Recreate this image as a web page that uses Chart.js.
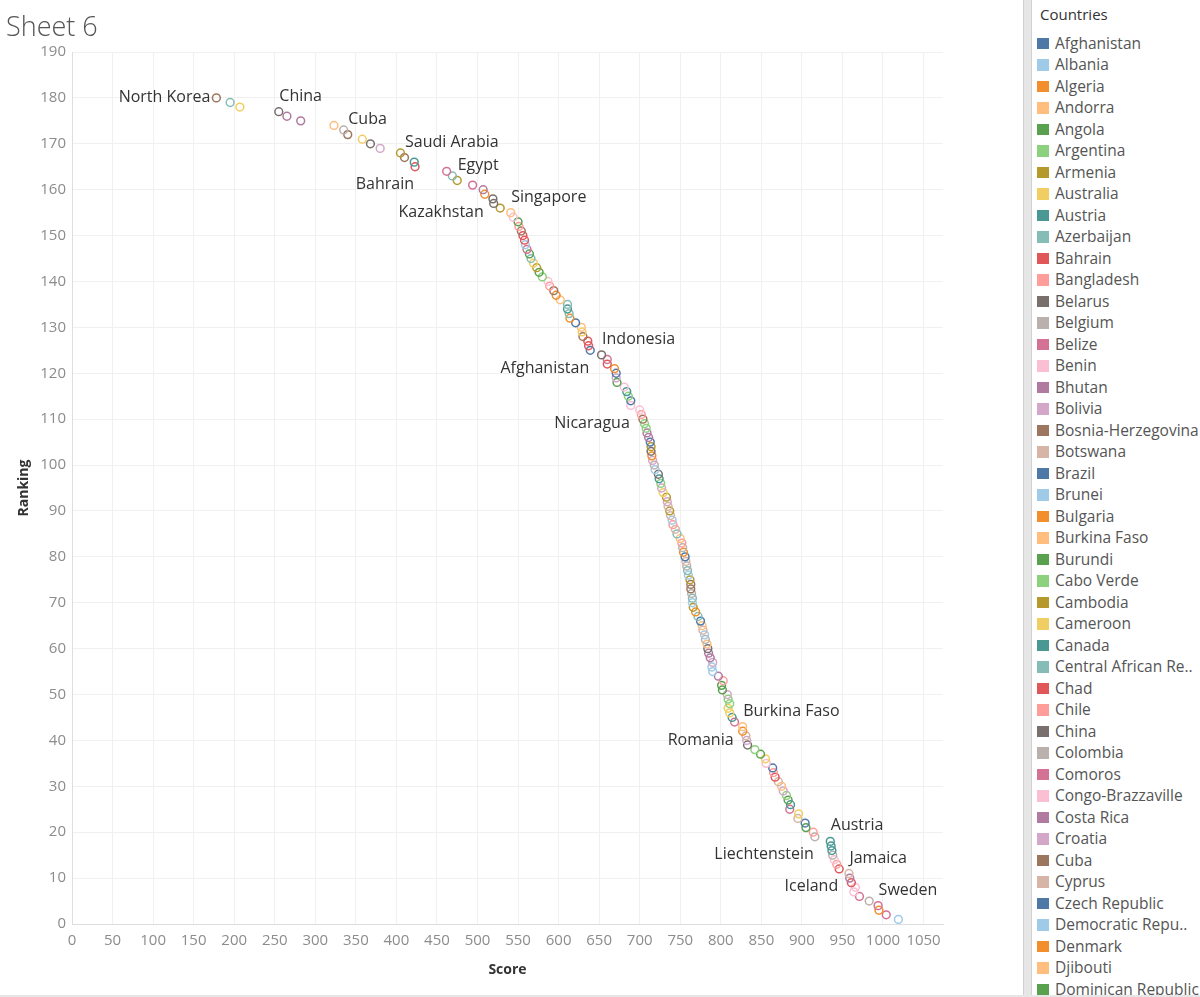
<!DOCTYPE html>
<html>
<head>
<meta charset="utf-8">
<title>Sheet 6</title>
<script src="https://cdn.jsdelivr.net/npm/chart.js@4.4.1/dist/chart.umd.min.js"></script>
<style>
  html, body { margin: 0; padding: 0; }
  body { width: 1200px; height: 997px; position: relative; overflow: hidden; background: #e6e6e6; font-family: "Open Sans", sans-serif; }
  #pane { position: absolute; left: 0; top: 0; width: 1023px; height: 995px; background: #fff; border-right: 1px solid #d2d2d2; }
  #title { position: absolute; left: 6px; top: 7px; font-size: 27px; color: #555; font-weight: 300; white-space: nowrap; }
  #chartBox { position: absolute; left: 0; top: 0; width: 1023px; height: 995px; }
  #side { position: absolute; left: 1031px; top: 0; width: 169px; height: 995px; background: #fff; border-left: 1px solid #d2d2d2; overflow: hidden; }
  #side h4 { margin: 0; position: absolute; left: 8px; top: 4px; font-size: 15px; font-weight: normal; color: #333; }
  #items { position: absolute; left: 0; top: 32.5px; }
  .item { height: 21.5px; line-height: 21.5px; font-size: 15.5px; color: #555; white-space: nowrap; position: relative; padding-left: 23px; }
  .item i { position: absolute; left: 5px; top: 5px; width: 11.5px; height: 11.5px; }
</style>
</head>
<body>
<div id="pane">
  <div id="chartBox"><canvas id="chart"></canvas></div>
  <div id="title">Sheet 6</div>
</div>
<div id="side">
  <h4>Countries</h4>
  <div id="items"></div>
</div>
<script>
// countries in alphabetical order (colour order of the legend)
var countries = [
  'Afghanistan', 'Albania', 'Algeria', 'Andorra', 'Angola', 'Argentina', 'Armenia', 'Australia', 'Austria', 'Azerbaijan',
  'Bahrain', 'Bangladesh', 'Belarus', 'Belgium', 'Belize', 'Benin', 'Bhutan', 'Bolivia', 'Bosnia-Herzegovina', 'Botswana',
  'Brazil', 'Brunei', 'Bulgaria', 'Burkina Faso', 'Burundi', 'Cabo Verde', 'Cambodia', 'Cameroon', 'Canada', 'Central African Republic',
  'Chad', 'Chile', 'China', 'Colombia', 'Comoros', 'Congo-Brazzaville', 'Costa Rica', 'Croatia', 'Cuba', 'Cyprus',
  'Czech Republic', 'Democratic Republic of Congo', 'Denmark', 'Djibouti', 'Dominican Republic', 'Ecuador', 'Egypt', 'El Salvador', 'Equatorial Guinea', 'Eritrea',
  'Estonia', 'Eswatini', 'Ethiopia', 'Fiji', 'Finland', 'France', 'Gabon', 'Gambia', 'Georgia', 'Germany',
  'Ghana', 'Greece', 'Guatemala', 'Guinea', 'Guinea-Bissau', 'Guyana', 'Haiti', 'Honduras', 'Hong Kong', 'Hungary',
  'Iceland', 'India', 'Indonesia', 'Iran', 'Iraq', 'Ireland', 'Israel', 'Italy', 'Ivory Coast', 'Jamaica',
  'Japan', 'Jordan', 'Kazakhstan', 'Kenya', 'Kosovo', 'Kuwait', 'Kyrgyzstan', 'Laos', 'Latvia', 'Lebanon',
  'Lesotho', 'Liberia', 'Libya', 'Liechtenstein', 'Lithuania', 'Luxembourg', 'Madagascar', 'Malawi', 'Malaysia', 'Maldives',
  'Mali', 'Malta', 'Mauritania', 'Mauritius', 'Mexico', 'Moldova', 'Mongolia', 'Montenegro', 'Morocco', 'Mozambique',
  'Myanmar', 'Namibia', 'Nepal', 'Netherlands', 'New Zealand', 'Nicaragua', 'Niger', 'Nigeria', 'North Korea', 'North Macedonia',
  'Northern Cyprus', 'Norway', 'OECS', 'Oman', 'Pakistan', 'Palestine', 'Panama', 'Papua New Guinea', 'Paraguay', 'Peru',
  'Philippines', 'Poland', 'Portugal', 'Qatar', 'Romania', 'Russia', 'Rwanda', 'Samoa', 'Saudi Arabia', 'Senegal',
  'Serbia', 'Seychelles', 'Sierra Leone', 'Singapore', 'Slovakia', 'Slovenia', 'Somalia', 'South Africa', 'South Korea', 'South Sudan',
  'Spain', 'Sri Lanka', 'Sudan', 'Suriname', 'Sweden', 'Switzerland', 'Syria', 'Taiwan', 'Tajikistan', 'Tanzania',
  'Thailand', 'Timor-Leste', 'Togo', 'Tonga', 'Trinidad and Tobago', 'Tunisia', 'Turkey', 'Turkmenistan', 'Uganda', 'Ukraine',
  'United Arab Emirates', 'United Kingdom', 'United States', 'Uruguay', 'Uzbekistan', 'Venezuela', 'Vietnam', 'Yemen', 'Zambia', 'Zimbabwe'
];

// one entry per mark: country, its ranking and its score
var markCountries = [
  'Norway', 'Finland', 'Denmark', 'Sweden', 'Netherlands', 'New Zealand', 'Switzerland', 'Ireland', 'Estonia', 'Costa Rica',
  'Jamaica', 'Iceland', 'Namibia', 'Luxembourg', 'Belgium', 'Canada', 'Latvia', 'Austria', 'Liechtenstein', 'United Kingdom',
  'Slovakia', 'Czech Republic', 'Germany', 'Australia', 'Lithuania', 'South Korea', 'Trinidad and Tobago', 'Slovenia', 'Italy', 'Andorra',
  'Cyprus', 'Spain', 'Poland', 'Ghana', 'France', 'South Africa', 'Dominican Republic', 'Cabo Verde', 'United States', 'Taiwan',
  'Botswana', 'OECS', 'Burkina Faso', 'Romania', 'Paraguay', 'Papua New Guinea', 'Montenegro', 'Moldova', 'Argentina', 'Croatia',
  'Guinea-Bissau', 'Kosovo', 'Chile', 'Bhutan', 'Malta', 'Greece', 'Malawi', 'Israel', 'Madagascar', 'Portugal',
  'Mauritius', 'Uruguay', 'Democratic Republic of Congo', 'North Macedonia', 'Tonga', 'Japan', 'Central African Republic', 'Bulgaria', 'Panama', 'Timor-Leste',
  'Hungary', 'Suriname', 'Georgia', 'Bosnia-Herzegovina', 'Armenia', 'Seychelles', 'Mozambique', 'Qatar', 'Senegal', 'Northern Cyprus',
  'Sierra Leone', 'Fiji', 'Sri Lanka', 'Guinea', 'Peru', 'Maldives', 'Eswatini', 'Albania', 'Zimbabwe', 'Mongolia',
  'Tanzania', 'Samoa', 'Haiti', 'El Salvador', 'Gambia', 'Guyana', 'Hong Kong', 'Nepal', 'Jordan', 'Colombia',
  'Bolivia', 'Togo', 'Ethiopia', 'Kyrgyzstan', 'Serbia', 'Niger', 'Gabon', 'Tunisia', 'Ecuador', 'Ivory Coast',
  'Liberia', 'Benin', 'Nicaragua', 'Brazil', 'Kuwait', 'Uganda', 'Congo-Brazzaville', 'Angola', 'Nigeria', 'Mali',
  'Guatemala', 'Lesotho', 'Belize', 'Indonesia', 'Afghanistan', 'Chad', 'Philippines', 'Malaysia', 'Cameroon', 'Kenya',
  'Thailand', 'Mauritania', 'Ukraine', 'Morocco', 'Lebanon', 'Oman', 'Algeria', 'Zambia', 'India', 'Venezuela',
  'Palestine', 'Burundi', 'Cambodia', 'Honduras', 'South Sudan', 'Mexico', 'Comoros', 'Brunei', 'United Arab Emirates', 'Myanmar',
  'Tajikistan', 'Bangladesh', 'Pakistan', 'Russia', 'Singapore', 'Turkey', 'Libya', 'Belarus', 'Kazakhstan', 'Rwanda',
  'Uzbekistan', 'Egypt', 'Azerbaijan', 'Iraq', 'Bahrain', 'Equatorial Guinea', 'Saudi Arabia', 'Somalia', 'Yemen', 'Sudan',
  'Laos', 'Cuba', 'Iran', 'Djibouti', 'Syria', 'Vietnam', 'China', 'Turkmenistan', 'Eritrea', 'North Korea'
];

var rankings = [
  1, 2, 3, 4, 5, 6, 7, 8, 9, 10, 11, 12, 13, 14, 15, 16, 17, 18, 19, 20,
  21, 22, 23, 24, 25, 26, 27, 28, 29, 30, 31, 32, 33, 34, 35, 36, 37, 38, 39, 40,
  41, 42, 43, 44, 45, 46, 47, 48, 49, 50, 51, 52, 53, 54, 55, 56, 57, 58, 59, 60,
  61, 62, 63, 64, 65, 66, 67, 68, 69, 70, 71, 72, 73, 74, 75, 76, 77, 78, 79, 80,
  81, 82, 83, 84, 85, 86, 87, 88, 89, 90, 91, 92, 93, 94, 95, 96, 97, 98, 99, 100,
  101, 102, 103, 104, 105, 106, 107, 108, 109, 110, 111, 112, 113, 114, 115, 116, 117, 118, 119, 120,
  121, 122, 123, 124, 125, 126, 127, 128, 129, 130, 131, 132, 133, 134, 135, 136, 137, 138, 139, 140,
  141, 142, 143, 144, 145, 146, 147, 148, 149, 150, 151, 152, 153, 154, 155, 156, 157, 158, 159, 160,
  161, 162, 163, 164, 165, 166, 167, 168, 169, 170, 171, 172, 173, 174, 175, 176, 177, 178, 179, 180
];

var scores = [
  1019, 1004, 995, 994, 983, 971, 964, 966, 961, 959, 958, 946, 943, 940, 938, 937, 936, 935, 916, 914,
  905, 904, 895, 896, 885, 886, 883, 881, 877, 875, 871, 867, 865, 864, 856, 855, 849, 842, 833, 832,
  831, 827, 827, 817, 814, 811, 809, 811, 809, 808, 802, 801, 803, 797, 790, 789, 790, 787, 785, 784,
  783, 781, 780, 778, 777, 775, 772, 769, 766, 765, 765, 764, 763, 763, 762, 760, 759, 758, 757, 756,
  754, 753, 752, 750, 746, 744, 741, 740, 738, 737, 735, 734, 733, 729, 727, 726, 724, 723, 719, 718,
  716, 715, 714, 714, 713, 711, 709, 708, 706, 704, 702, 700, 689, 689, 686, 684, 681, 672, 671, 671,
  669, 660, 660, 653, 639, 637, 636, 630, 629, 628, 621, 614, 613, 611, 611, 602, 597, 594, 589, 587,
  580, 576, 573, 569, 566, 564, 561, 559, 558, 556, 554, 551, 550, 544, 541, 528, 520, 519, 509, 507,
  494, 475, 469, 462, 423, 422, 410, 405, 380, 368, 358, 340, 335, 323, 282, 265, 255, 207, 195, 178
];

var xTicks = [0, 50, 100, 150, 200, 250, 300, 350, 400, 450, 500, 550, 600, 650, 700, 750, 800, 850, 900, 950, 1000, 1050];
var yTicks = [0, 10, 20, 30, 40, 50, 60, 70, 80, 90, 100, 110, 120, 130, 140, 150, 160, 170, 180, 190];

// Tableau 20
var palette = [
  '#4E79A7', '#A0CBE8', '#F28E2B', '#FFBE7D', '#59A14F', '#8CD17D', '#B6992D', '#F1CE63', '#499894', '#86BCB6',
  '#E15759', '#FF9D9A', '#79706E', '#BAB0AC', '#D37295', '#FABFD2', '#B07AA1', '#D4A6C8', '#9D7660', '#D7B5A6'
];

// which marks carry a label and on which side
var labelSide = {
  'North Korea': 'left', 'China': 'up', 'Cuba': 'up', 'Saudi Arabia': 'up', 'Egypt': 'up', 'Singapore': 'up',
  'Indonesia': 'up', 'Burkina Faso': 'up', 'Austria': 'up', 'Jamaica': 'up', 'Sweden': 'up',
  'Bahrain': 'down', 'Kazakhstan': 'down', 'Afghanistan': 'down', 'Nicaragua': 'down', 'Romania': 'down',
  'Liechtenstein': 'down', 'Iceland': 'down'
};

function colorOf(name) {
  var i = countries.indexOf(name);
  return i < 0 ? '#000' : palette[i % palette.length];
}

// legend, long names cut the way Tableau does it
var measure = document.createElement('canvas').getContext('2d');
measure.font = '15.5px "Open Sans"';
function fit(text) {
  if (measure.measureText(text).width <= 146) return text;
  var t = text;
  while (t.length > 1 && measure.measureText(t + '..').width > 141) t = t.slice(0, -1);
  return t + '..';
}
var items = document.getElementById('items');
countries.slice(0, 48).forEach(function (name) {
  var d = document.createElement('div');
  d.className = 'item';
  d.innerHTML = '<i style="background:' + colorOf(name) + '"></i>' + fit(name);
  items.appendChild(d);
});

var points = markCountries.map(function (name, i) {
  return { x: scores[i], y: rankings[i], country: name };
});

var markLabels = {
  id: 'markLabels',
  afterDatasetsDraw: function (chart) {
    var c = chart.ctx;
    var meta = chart.getDatasetMeta(0);
    c.save();
    c.font = '16px "Open Sans"';
    c.fillStyle = '#333';
    c.textBaseline = 'middle';
    markCountries.forEach(function (name, i) {
      var side = labelSide[name];
      if (!side) return;
      var p = meta.data[i];
      if (side === 'up') {
        c.textAlign = 'left';
        c.fillText(name, p.x + 0.5, p.y - 15.5);
      } else if (side === 'down') {
        c.textAlign = 'right';
        c.fillText(name, p.x - 1, p.y + 18);
      } else {
        c.textAlign = 'right';
        c.fillText(name, p.x - 6, p.y);
      }
    });
    c.restore();
  }
};

var tickFont = { family: '"Open Sans", sans-serif', size: 15 };
var titleFont = { family: '"Open Sans", sans-serif', size: 14, weight: 'bold' };
var plain = function (v) { return String(v); };

new Chart(document.getElementById('chart').getContext('2d'), {
  type: 'scatter',
  data: {
    datasets: [{
      data: points,
      pointRadius: 3.9,
      pointHoverRadius: 3.9,
      pointBorderWidth: 1.5,
      pointBackgroundColor: 'rgba(255,255,255,0)',
      pointBorderColor: points.map(function (p) { return colorOf(p.country); })
    }]
  },
  options: {
    animation: false,
    responsive: true,
    maintainAspectRatio: false,
    layout: { padding: { top: 52, right: 80, left: 0, bottom: 0 } },
    plugins: { legend: { display: false }, tooltip: { enabled: false } },
    scales: {
      x: {
        type: 'linear', min: 0, max: 1074,
        afterBuildTicks: function (s) { s.ticks = xTicks.map(function (v) { return { value: v }; }); },
        afterFit: function (s) { s.height = 71; },
        ticks: { color: '#8c8c8c', font: tickFont, padding: 8, maxRotation: 0, autoSkip: false, callback: plain },
        grid: { color: '#f0f0f0', drawTicks: false },
        border: { color: '#dedede' },
        title: { display: true, text: 'Score', color: '#333', font: titleFont, padding: { top: 0, bottom: 17 } }
      },
      y: {
        type: 'linear', min: 0, max: 190,
        afterBuildTicks: function (s) { s.ticks = yTicks.map(function (v) { return { value: v }; }); },
        afterFit: function (s) { s.width = 72; },
        ticks: { color: '#8c8c8c', font: tickFont, padding: 6, autoSkip: false, callback: plain },
        grid: { color: '#f0f0f0', drawTicks: false },
        border: { color: '#dedede' },
        title: { display: true, text: 'Ranking', color: '#333', font: titleFont, padding: { top: 16, bottom: 0 } }
      }
    }
  },
  plugins: [markLabels]
});
</script>
</body>
</html>
